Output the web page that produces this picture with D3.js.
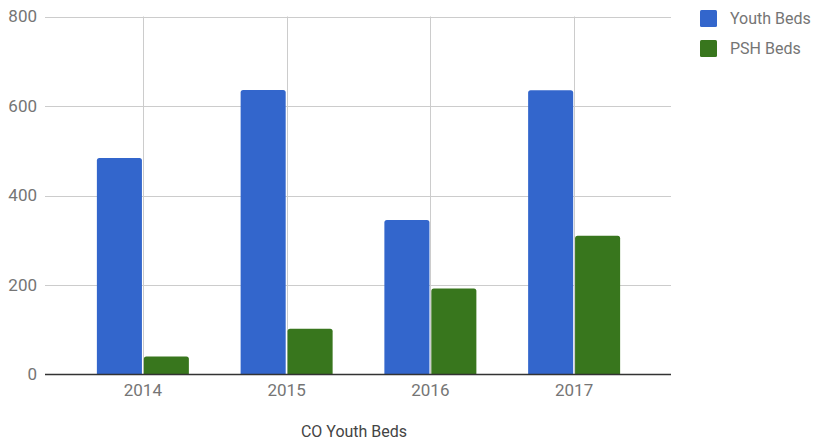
<!DOCTYPE html>
<html>
<head>
<meta charset="utf-8">
<script src="https://cdn.jsdelivr.net/npm/d3@7"></script>
<style>
  body { margin: 0; background: #fff; }
  text { font-family: Roboto, "Noto Sans", sans-serif; }
</style>
</head>
<body>
<div id="chart"></div>
<script>

const years = ["2014", "2015", "2016", "2017"]
const seriesNames = ["Youth Beds", "PSH Beds"]
const youthBeds = [484, 636, 345, 635]
const pshBeds = [40, 102, 192, 310]
const yTicks = [0, 200, 400, 600, 800]
const colors = ["#3366cc", "#38761d"]

const width = 817
const height = 442

const svg = d3.select('#chart').append('svg').attr("width", width).attr("height", height)

// plot area
const plotLeft = 45
const plotRight = 671

const x = d3.scaleBand().domain(years).range([71, 646])
const xInner = d3.scaleBand().domain(seriesNames).range([-46, 46]).paddingInner(0.04)
const y = d3.scaleLinear().domain([0, 800]).range([374.5, 16.5])

// horizontal grid
svg.append('g')
  .selectAll('line')
  .data(yTicks.filter(d => d > 0))
  .enter()
  .append('line')
  .attr("x1", plotLeft)
  .attr("x2", plotRight)
  .attr("y1", d => Math.round(y(d)) + 0.5)
  .attr("y2", d => Math.round(y(d)) + 0.5)
  .attr("stroke", "#cccccc")
  .attr("stroke-width", 1)

// vertical grid at category centers
svg.append('g')
  .selectAll('line')
  .data(years)
  .enter()
  .append('line')
  .attr("x1", d => Math.round(x(d) + x.bandwidth() / 2) + 0.5)
  .attr("x2", d => Math.round(x(d) + x.bandwidth() / 2) + 0.5)
  .attr("y1", y(800))
  .attr("y2", y(0))
  .attr("stroke", "#cccccc")
  .attr("stroke-width", 1)

// y axis labels
const axisLeft = d3.axisLeft(y).tickValues(yTicks).tickSize(0).tickPadding(0)
const gy = svg.append('g')
  .attr("transform", "translate(37,0)")
  .call(axisLeft)
gy.select(".domain").remove()
gy.selectAll("text")
  .attr("fill", "#757575")
  .style("font-size", "17px")
  .style("font-family", "Roboto, sans-serif")

// bars
const rows = years.map((yr, i) => ({ year: yr, values: [youthBeds[i], pshBeds[i]] }))

function topRounded(x0, y0, w, h, r) {
  r = Math.min(r, h)
  return `M${x0},${y0 + h}V${y0 + r}Q${x0},${y0} ${x0 + r},${y0}H${x0 + w - r}Q${x0 + w},${y0} ${x0 + w},${y0 + r}V${y0 + h}Z`
}

const groups = svg.append('g')
  .selectAll('g')
  .data(rows)
  .enter()
  .append('g')
  .attr("transform", d => `translate(${x(d.year) + x.bandwidth() / 2},0)`)

groups.selectAll('path')
  .data(d => d.values.map((v, i) => ({ name: seriesNames[i], value: v, i: i })))
  .enter()
  .append('path')
  .attr("d", d => topRounded(xInner(d.name), y(d.value), xInner.bandwidth(), y(0) - y(d.value), 2.5))
  .attr("fill", d => colors[d.i])

// baseline
svg.append('line')
  .attr("x1", plotLeft)
  .attr("x2", plotRight)
  .attr("y1", y(0))
  .attr("y2", y(0))
  .attr("stroke", "#333333")
  .attr("stroke-width", 1.5)

// x axis labels
const axisBottom = d3.axisBottom(x).tickSize(0).tickPadding(0)
const gx = svg.append('g')
  .attr("transform", "translate(0,384)")
  .call(axisBottom)
gx.select(".domain").remove()
gx.selectAll("text")
  .attr("fill", "#757575")
  .style("font-size", "17px")
  .style("font-family", "Roboto, sans-serif")

// title
svg.append('text')
  .attr("x", 354)
  .attr("y", 437)
  .attr("text-anchor", "middle")
  .attr("fill", "#444444")
  .style("font-size", "16px")
  .text("CO Youth Beds")

// legend
const legend = svg.append('g')
  .selectAll('g')
  .data(seriesNames)
  .enter()
  .append('g')
  .attr("transform", (d, i) => `translate(700,${10 + i * 30})`)

legend.append('rect')
  .attr("width", 17)
  .attr("height", 17)
  .attr("rx", 1.5)
  .attr("fill", (d, i) => colors[i])

legend.append('text')
  .attr("x", 30)
  .attr("y", 14)
  .attr("fill", "#757575")
  .style("font-size", "16px")
  .text(d => d)

</script>
</body>
</html>
